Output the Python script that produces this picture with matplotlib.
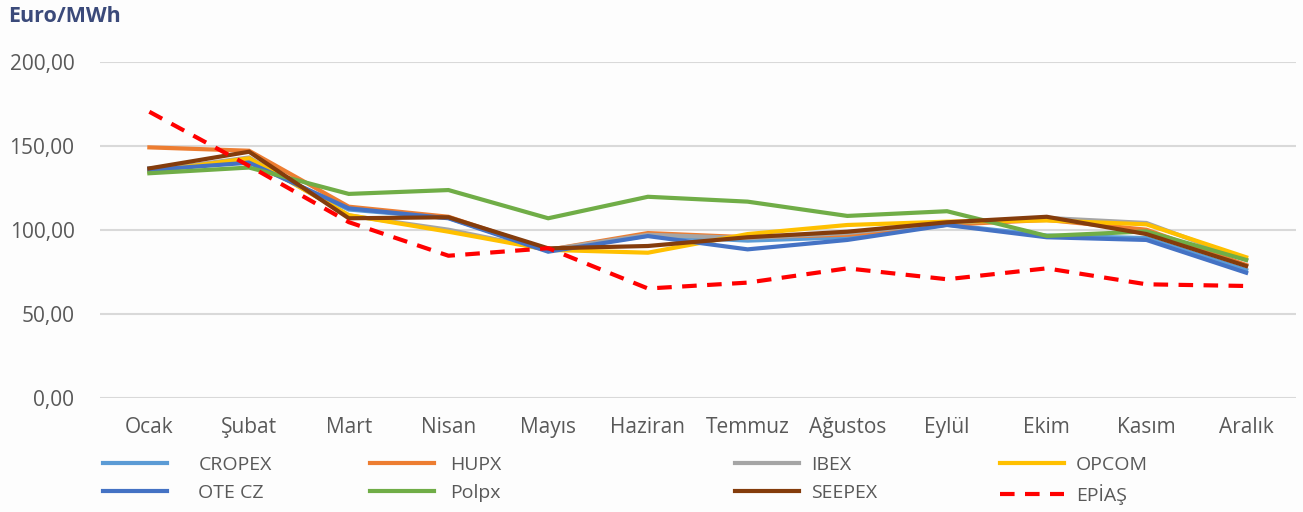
import matplotlib
matplotlib.use("Agg")
import matplotlib.pyplot as plt

months = ["Ocak", "Şubat", "Mart", "Nisan", "Mayıs", "Haziran", "Temmuz",
          "Ağustos", "Eylül", "Ekim", "Kasım", "Aralık"]

cropex = [136.5, 140.5, 112.0, 107.0, 87.5, 96.5, 93.5, 95.5, 103.0, 96.5, 95.0, 76.0]
hupx   = [149.0, 147.0, 113.7, 107.7, 88.0, 98.0, 95.5, 97.0, 103.0, 105.8, 100.0, 79.0]
ibex   = [135.0, 143.0, 108.5, 100.0, 88.0, 97.0, 95.0, 98.0, 104.0, 107.0, 104.0, 82.0]
opcom  = [134.5, 142.5, 108.7, 98.8, 88.0, 86.3, 97.4, 102.8, 104.8, 105.5, 103.2, 83.6]
otecz  = [135.5, 139.9, 112.7, 106.8, 86.9, 96.2, 88.3, 93.9, 102.8, 95.5, 93.9, 74.4]
polpx  = [133.6, 137.0, 121.3, 123.6, 106.8, 119.6, 116.7, 108.2, 111.0, 96.3, 99.0, 82.0]
seepex = [136.5, 146.4, 106.8, 107.4, 88.9, 90.3, 95.5, 98.8, 104.4, 107.7, 97.4, 78.4]
epias  = [170.2, 138.0, 104.5, 84.5, 89.0, 65.0, 68.5, 77.0, 70.5, 77.0, 67.5, 66.5]

yticks = [0, 50, 100, 150, 200]
ytick_labels = ["0,00", "50,00", "100,00", "150,00", "200,00"]

series = [
    ("CROPEX", cropex, "#5B9BD5", "-"),
    ("HUPX", hupx, "#ED7D31", "-"),
    ("IBEX", ibex, "#A5A5A5", "-"),
    ("OPCOM", opcom, "#FFC000", "-"),
    ("OTE CZ", otecz, "#4472C4", "-"),
    ("Polpx", polpx, "#70AD47", "-"),
    ("SEEPEX", seepex, "#843C0C", "-"),
    ("EPİAŞ", epias, "#FF0000", "--"),
]

plt.rcParams['font.family'] = ['Open Sans', 'DejaVu Sans']
fig = plt.figure(figsize=(13.03, 5.12), dpi=100)
fig.patch.set_facecolor("#FDFDFD")
ax = fig.add_axes([99.5 / 1303, 1 - 397.7 / 512, (1296 - 99.5) / 1303, (397.7 - 61.7) / 512])
ax.set_facecolor("none")

x = list(range(len(months)))
handles = {}
for name, vals, color, ls in series:
    if ls == "--":
        (h,) = ax.plot(x, vals, color=color, lw=3.0, linestyle=(0, (3.5, 2.5)),
                       solid_capstyle="butt", zorder=5, label=name)
    else:
        (h,) = ax.plot(x, vals, color=color, lw=3.0, solid_joinstyle="miter",
                       zorder=3, label=name)
    handles[name] = h

ax.set_xlim(-0.5, len(months) - 0.5)
ax.set_ylim(0, 200)
ax.set_yticks(yticks)
ax.set_yticklabels(ytick_labels)
ax.set_xticks(x)
ax.set_xticklabels(months)
ax.grid(axis="y", color="#D9D9D9", lw=1.5, zorder=0)
ax.set_axisbelow(True)
for s in ax.spines.values():
    s.set_visible(False)
ax.tick_params(axis="both", length=0, labelsize=15, colors="#595959")
ax.tick_params(axis="y", pad=18)
ax.tick_params(axis="x", pad=14)

fig.text(8 / 1303, 1 - 17 / 512, "Euro/MWh", fontsize=15.5, fontweight="bold",
         color="#3B4A7A", va="center", ha="left")

cols = [("CROPEX", "OTE CZ"), ("HUPX", "Polpx"), ("IBEX", "SEEPEX"), ("OPCOM", "EPİAŞ")]
col_x = [103 / 1303, 370 / 1303, 735 / 1303, 1000 / 1303]
col_pad = [1.6, 0.8, 0.6, 0.6]
for (a, b), cx, pad in zip(cols, col_x, col_pad):
    leg = fig.legend([handles[a], handles[b]], [a, b], loc="upper left",
                     bbox_to_anchor=(cx, 1 - 456 / 512), frameon=False,
                     fontsize=14, handlelength=3.3, handletextpad=pad,
                     labelspacing=0.5, borderaxespad=0, borderpad=0)
    for t in leg.get_texts():
        t.set_color("#595959")

fig.savefig("out.png", dpi=100, facecolor=fig.get_facecolor())
